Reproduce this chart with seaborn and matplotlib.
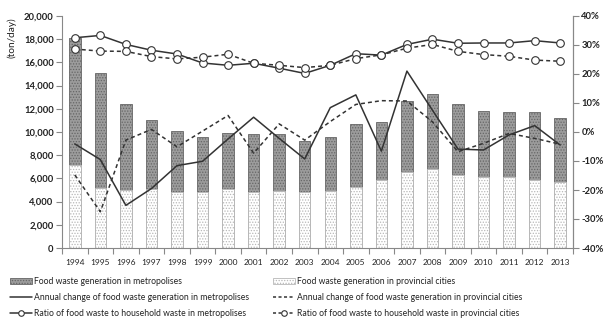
import numpy as np
import pandas as pd
import matplotlib
matplotlib.use("Agg")
import matplotlib.pyplot as plt
import seaborn as sns
from matplotlib.patches import Patch
from matplotlib.lines import Line2D
from matplotlib.ticker import FuncFormatter

# Food waste generation (ton/day)
years = [1994, 1995, 1996, 1997, 1998, 1999, 2000, 2001, 2002, 2003,
         2004, 2005, 2006, 2007, 2008, 2009, 2010, 2011, 2012, 2013]
metro_gen = [10950, 9950, 7400, 5950, 5300, 4750, 4800, 5000, 4850, 4400,
             4700, 5400, 5000, 6150, 6500, 6100, 5700, 5600, 5800, 5500]
prov_gen = [7150, 5150, 5000, 5050, 4800, 4850, 5100, 4800, 4950, 4800,
            4900, 5300, 5900, 6550, 6800, 6300, 6100, 6100, 5900, 5700]

# Annual change of food waste generation (%)
metro_change = [-4.1, -9.5, -25.3, -19.5, -11.6, -10.1, -2.4, 5.1, -2.2, -9.3,
                8.4, 12.8, -6.6, 21.0, 7.5, -5.9, -6.2, -1.0, 2.2, -4.5]
prov_change = [-14.8, -27.5, -2.8, 0.9, -5.1, 0.3, 5.7, -7.3, 2.8, -2.8,
               3.6, 9.5, 10.8, 10.7, 3.5, -6.8, -3.9, -0.5, -2.2, -4.2]

# Ratio of food waste to household waste (%)
metro_ratio = [32.5, 33.3, 30.2, 28.2, 26.9, 23.8, 23.0, 23.7, 22.0, 20.2,
               23.0, 27.0, 26.5, 30.2, 32.0, 30.6, 30.7, 30.7, 31.5, 30.7]
prov_ratio = [28.6, 27.9, 27.8, 26.0, 25.2, 25.8, 26.8, 23.7, 23.0, 22.2,
              23.0, 25.3, 26.6, 28.9, 30.2, 27.8, 26.7, 26.1, 24.8, 24.4]

left_ticks = list(range(0, 20001, 2000))
right_ticks = list(range(-40, 41, 10))

sns.set_theme(style="white")
plt.rcParams['font.family'] = ['Lato', 'DejaVu Sans']
plt.rcParams['hatch.linewidth'] = 0.6

df = pd.DataFrame({
    "year": years,
    "pos": np.arange(len(years)),
    "metro": metro_gen,
    "prov": prov_gen,
    "metro_change": metro_change,
    "prov_change": prov_change,
    "metro_ratio": metro_ratio,
    "prov_ratio": prov_ratio,
})
df["total"] = df["metro"] + df["prov"]

W, H = 603, 323
fig = plt.figure(figsize=(W / 100, H / 100), dpi=100)
ax = fig.add_axes([62 / W, 1 - 248 / H, (573 - 62) / W, (248 - 16) / H])

metro_face, metro_edge = "#9c9c9c", "#666666"
prov_face, prov_edge = "white", "#b8b8b8"
line_col = "#333333"
text_col = "#222222"

# Stacked bars: metropolises on top of provincial cities
sns.barplot(data=df, x="year", y="total", color=metro_face, saturation=1,
            width=0.45, edgecolor=metro_edge, linewidth=0.6, hatch="......",
            errorbar=None, ax=ax)
sns.barplot(data=df, x="year", y="prov", color=prov_face, saturation=1,
            width=0.45, edgecolor=prov_edge, linewidth=0.6, hatch="......",
            errorbar=None, ax=ax)

ax.set_xlim(-0.5, len(years) - 0.5)
ax.set_ylim(0, 20000)
ax.set_yticks(left_ticks)
ax.yaxis.set_major_formatter(FuncFormatter(lambda v, p: f"{int(v):,}"))
ax.set_xlabel("")
ax.set_ylabel("")
ax.tick_params(axis="y", which="major", direction="out", length=4, width=0.8,
               color="#888888", labelsize=6.8, pad=2, left=True)
for t in ax.get_yticklabels():
    t.set_fontweight("bold")
    t.set_color(text_col)
ax.tick_params(axis="x", which="major", length=0, labelsize=6.0, pad=8,
               labelcolor=text_col)
ax.set_xticks(np.arange(-0.5, len(years), 1.0), minor=True)
ax.tick_params(axis="x", which="minor", direction="out", length=4, width=0.8,
               color="#888888", bottom=True)

ax.spines["top"].set_visible(False)
for side in ["left", "bottom", "right"]:
    ax.spines[side].set_color("#888888")
    ax.spines[side].set_linewidth(0.8)

# Percentage lines on the secondary axis
ax2 = ax.twinx()
sns.lineplot(data=df, x="pos", y="metro_change", ax=ax2, color=line_col,
             linewidth=1.1)
sns.lineplot(data=df, x="pos", y="prov_change", ax=ax2, color=line_col,
             linewidth=1.1, linestyle="--")
ax2.lines[-1].set_dashes([2.6, 2])
sns.lineplot(data=df, x="pos", y="metro_ratio", ax=ax2, color=line_col,
             linewidth=1.1, marker="o", markersize=5.5, markerfacecolor="white",
             markeredgecolor=line_col, markeredgewidth=0.8)
sns.lineplot(data=df, x="pos", y="prov_ratio", ax=ax2, color=line_col,
             linewidth=1.1, linestyle="--", marker="o", markersize=5.5,
             markerfacecolor="white", markeredgecolor=line_col,
             markeredgewidth=0.8)
ax2.lines[-1].set_dashes([2.6, 2])

ax2.set_ylim(-40, 40)
ax2.set_yticks(right_ticks)
ax2.yaxis.set_major_formatter(FuncFormatter(lambda v, p: f"{int(v)}%"))
ax2.set_ylabel("")
ax2.set_xlabel("")
ax2.tick_params(axis="y", direction="out", length=4, width=0.8,
                color="#888888", labelsize=6.8, pad=2, right=True)
for t in ax2.get_yticklabels():
    t.set_fontweight("bold")
    t.set_color(text_col)
for side in ["top", "left", "bottom"]:
    ax2.spines[side].set_visible(False)
ax2.spines["right"].set_color("#888888")
ax2.spines["right"].set_linewidth(0.8)
ax2.set_xlim(-0.5, len(years) - 0.5)

fig.text(12 / W, 1 - 38 / H, "(ton/day)", rotation=90, ha="center",
         va="center", fontsize=7.2, color=text_col)

# Legend in two columns below the chart
h_metro = Patch(facecolor=metro_face, edgecolor=metro_edge, hatch="......",
                linewidth=0.6)
h_prov = Patch(facecolor=prov_face, edgecolor=prov_edge, hatch="......",
               linewidth=0.6)
h_mc = Line2D([], [], color=line_col, lw=1.1)
h_pc = Line2D([], [], color=line_col, lw=1.1, dashes=[2, 1.6])
h_mr = Line2D([], [], color=line_col, lw=1.1, marker="o", markersize=4,
              markerfacecolor="white", markeredgewidth=0.8)
h_pr = Line2D([], [], color=line_col, lw=1.1, dashes=[2, 1.6], marker="o",
              markersize=4, markerfacecolor="white", markeredgewidth=0.8)

leg_kw = dict(loc="upper left", frameon=False, fontsize=6.2, handlelength=2.5,
              handleheight=0.85, handletextpad=0.25, labelspacing=0.8,
              borderaxespad=0, borderpad=0, labelcolor=text_col)
fig.legend([h_metro, h_mc, h_mr],
           ["Food waste generation in metropolises",
            "Annual change of food waste generation in metropolises",
            "Ratio of food waste to household waste in metropolises"],
           bbox_to_anchor=(10 / W, 1 - 277 / H), **leg_kw)
fig.legend([h_prov, h_pc, h_pr],
           ["Food waste generation in provincial cities",
            "Annual change of food waste generation in provincial cities",
            "Ratio of food waste to household waste in provincial cities"],
           bbox_to_anchor=(273 / W, 1 - 277 / H), **leg_kw)

fig.savefig("out.png", dpi=100, facecolor="white")
